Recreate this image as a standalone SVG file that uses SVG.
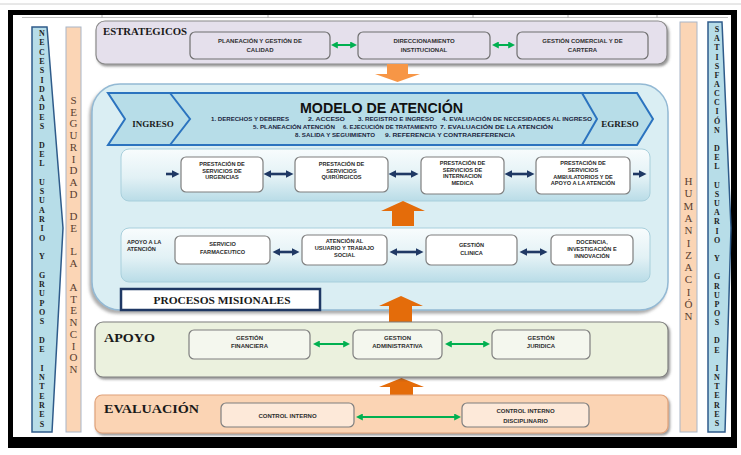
<svg xmlns="http://www.w3.org/2000/svg" width="741" height="455" viewBox="0 0 741 455">
<defs>
<style>
.bt{font-family:"Liberation Sans",Arial,sans-serif;font-weight:bold;font-size:6px;fill:#2e2e2e;text-anchor:middle}
.bs{font-family:"Liberation Sans",Arial,sans-serif;font-weight:bold;font-size:5.6px;fill:#2a2a2a;text-anchor:middle}
.ser{font-family:"Liberation Serif","Times New Roman",serif;font-weight:bold;fill:#1a1a1a}
.vb{font-family:"Liberation Serif","Times New Roman",serif;font-weight:bold;font-size:8px;fill:#1f1f1f;text-anchor:middle}
.vo{font-family:"Liberation Serif","Times New Roman",serif;font-size:11px;fill:#5a4030;text-anchor:middle}
.ga{stroke:#00b050;stroke-width:2;fill:none;marker-start:url(#gh);marker-end:url(#gh)}
.na{stroke:#1f3864;stroke-width:2.6;fill:none;marker-end:url(#nh)}
.nd{stroke:#1f3864;stroke-width:2.6;fill:none;marker-start:url(#nh);marker-end:url(#nh)}
.sub{font-family:"Liberation Sans",Arial,sans-serif;font-weight:bold;font-size:5.3px;fill:#1b2540}
.wb{fill:#fff;stroke:#7f7f7f;stroke-width:1.2}
.pan{fill:url(#pg);stroke:#a8cfdc;stroke-width:1}
</style>
<marker id="gh" viewBox="0 0 10 10" refX="4" refY="5" markerWidth="3.5" markerHeight="3.5" orient="auto-start-reverse"><path d="M0,0 L10,5 L0,10 z" fill="#00b050"/></marker>
<marker id="nh" viewBox="0 0 10 10" refX="4" refY="5" markerWidth="2.9" markerHeight="2.9" orient="auto-start-reverse"><path d="M0,0 L10,5 L0,10 z" fill="#1f3864"/></marker>
<filter id="sh" x="-5%" y="-10%" width="112%" height="130%"><feDropShadow dx="1.5" dy="2" stdDeviation="1" flood-color="#444" flood-opacity="0.55"/></filter>
<filter id="sh2" x="-5%" y="-5%" width="110%" height="115%"><feDropShadow dx="-2" dy="3" stdDeviation="1.5" flood-color="#777" flood-opacity="0.6"/></filter>
<linearGradient id="pg" x1="0" y1="0" x2="0" y2="1"><stop offset="0" stop-color="#f8fcfd"/><stop offset="0.55" stop-color="#e2f1f5"/><stop offset="1" stop-color="#b9dce7"/></linearGradient>
</defs>

<rect x="0" y="0" width="741" height="455" fill="#fff"/>
<line x1="0" y1="4" x2="741" y2="4" stroke="#d0d0d0" stroke-width="1"/>
<g id="frame">
<rect x="8" y="10" width="729" height="5" fill="#000"/>
<rect x="8" y="10" width="5" height="438" fill="#000"/>
<rect x="731" y="10" width="6" height="438" fill="#000"/>
<rect x="8" y="437" width="729" height="11" fill="#000"/>
<line x1="22" y1="17.5" x2="728" y2="17.5" stroke="#c0c0c0" stroke-width="1"/>
<path d="M102,15V18 M268,15V18 M473,15V18 M568,15V18 M657,15V18" stroke="#b0b0b0" stroke-width="1"/>
</g>

<g id="necesidades">
<path d="M32,27 L47,27 L63,228 L52,432 L32,432 Z" fill="#b7dde8" stroke="#2f5b8a" stroke-width="1.5"/>
<text class="vb"><tspan x="42" y="36">N</tspan><tspan x="42" y="45.3">E</tspan><tspan x="42" y="54.6">C</tspan><tspan x="42" y="63.9">E</tspan><tspan x="42" y="73.2">S</tspan><tspan x="42" y="82.5">I</tspan><tspan x="42" y="91.8">D</tspan><tspan x="42" y="101.1">A</tspan><tspan x="42" y="110.4">D</tspan><tspan x="42" y="119.7">E</tspan><tspan x="42" y="129">S</tspan><tspan x="42" y="147.6">D</tspan><tspan x="42" y="156.9">E</tspan><tspan x="42" y="166.2">L</tspan><tspan x="42" y="184.8">U</tspan><tspan x="42" y="194.1">S</tspan><tspan x="42" y="203.4">U</tspan><tspan x="42" y="212.7">A</tspan><tspan x="42" y="222">R</tspan><tspan x="42" y="231.3">I</tspan><tspan x="42" y="240.6">O</tspan><tspan x="42" y="259.2">Y</tspan><tspan x="42" y="277.8">G</tspan><tspan x="42" y="287.1">R</tspan><tspan x="42" y="296.4">U</tspan><tspan x="42" y="305.7">P</tspan><tspan x="42" y="315">O</tspan><tspan x="42" y="324.3">S</tspan><tspan x="42" y="342.9">D</tspan><tspan x="42" y="352.2">E</tspan><tspan x="42" y="370.8">I</tspan><tspan x="42" y="380.1">N</tspan><tspan x="42" y="389.4">T</tspan><tspan x="42" y="398.7">E</tspan><tspan x="42" y="408">R</tspan><tspan x="42" y="417.3">E</tspan><tspan x="42" y="426.6">S</tspan></text>
</g>

<g id="seguridad">
<rect x="66" y="27" width="15" height="405" fill="#fbd5b5" stroke="#a9b6c8" stroke-width="1"/>
<text class="vo"><tspan x="73.5" y="104">S</tspan><tspan x="73.5" y="115.7">E</tspan><tspan x="73.5" y="127.4">G</tspan><tspan x="73.5" y="139.1">U</tspan><tspan x="73.5" y="150.8">R</tspan><tspan x="73.5" y="162.5">I</tspan><tspan x="73.5" y="174.2">D</tspan><tspan x="73.5" y="185.9">A</tspan><tspan x="73.5" y="197.6">D</tspan><tspan x="73.5" y="220">D</tspan><tspan x="73.5" y="231.7">E</tspan><tspan x="73.5" y="255">L</tspan><tspan x="73.5" y="266.7">A</tspan><tspan x="73.5" y="291">A</tspan><tspan x="73.5" y="302.7">T</tspan><tspan x="73.5" y="314.4">E</tspan><tspan x="73.5" y="326.1">N</tspan><tspan x="73.5" y="337.8">C</tspan><tspan x="73.5" y="349.5">I</tspan><tspan x="73.5" y="361.2">O</tspan><tspan x="73.5" y="372.9">N</tspan></text>
</g>

<g id="humanizacion">
<rect x="680" y="22" width="17" height="410" fill="#fbd5b5" stroke="#a9b6c8" stroke-width="1"/>
<text class="vo"><tspan x="688.5" y="185">H</tspan><tspan x="688.5" y="197.3">U</tspan><tspan x="688.5" y="209.6">M</tspan><tspan x="688.5" y="221.9">A</tspan><tspan x="688.5" y="234.2">N</tspan><tspan x="688.5" y="246.5">I</tspan><tspan x="688.5" y="258.8">Z</tspan><tspan x="688.5" y="271.1">A</tspan><tspan x="688.5" y="283.4">C</tspan><tspan x="688.5" y="295.7">I</tspan><tspan x="688.5" y="308">Ó</tspan><tspan x="688.5" y="320.3">N</tspan></text>
</g>

<g id="satisfaccion">
<path d="M708,22 L722,22 L731,228 L725,432 L708,432 Z" fill="#b7dde8" stroke="#2f5b8a" stroke-width="1.5"/>
<text class="vb"><tspan x="717" y="32">S</tspan><tspan x="717" y="41.2">A</tspan><tspan x="717" y="50.3">T</tspan><tspan x="717" y="59.5">I</tspan><tspan x="717" y="68.6">S</tspan><tspan x="717" y="77.8">F</tspan><tspan x="717" y="87">A</tspan><tspan x="717" y="96.1">C</tspan><tspan x="717" y="105.3">C</tspan><tspan x="717" y="114.4">I</tspan><tspan x="717" y="123.6">Ó</tspan><tspan x="717" y="132.8">N</tspan><tspan x="717" y="151.1">D</tspan><tspan x="717" y="160.2">E</tspan><tspan x="717" y="169.4">L</tspan><tspan x="717" y="187.7">U</tspan><tspan x="717" y="196.9">S</tspan><tspan x="717" y="206">U</tspan><tspan x="717" y="215.2">A</tspan><tspan x="717" y="224.4">R</tspan><tspan x="717" y="233.5">I</tspan><tspan x="717" y="242.7">O</tspan><tspan x="717" y="261">Y</tspan><tspan x="717" y="279.3">G</tspan><tspan x="717" y="288.5">R</tspan><tspan x="717" y="297.6">U</tspan><tspan x="717" y="306.8">P</tspan><tspan x="717" y="316">O</tspan><tspan x="717" y="325.1">S</tspan><tspan x="717" y="343.4">D</tspan><tspan x="717" y="352.6">E</tspan><tspan x="717" y="370.9">I</tspan><tspan x="717" y="380">N</tspan><tspan x="717" y="389.2">T</tspan><tspan x="717" y="398.4">E</tspan><tspan x="717" y="407.5">R</tspan><tspan x="717" y="416.7">E</tspan><tspan x="717" y="425.9">S</tspan></text>
</g>

<g id="estrategicos">
<rect x="96" y="21" width="571" height="43" rx="9" fill="#e5e0ec" stroke="#8a8a8a" stroke-width="1.2" filter="url(#sh)"/>
<text class="ser" x="103" y="35" font-size="11" textLength="84" lengthAdjust="spacingAndGlyphs">ESTRATEGICOS</text>
</g>
<g id="planeacion">
<rect x="190" y="32" width="140" height="27" rx="5" fill="#e5e0ec" stroke="#6f6f6f" stroke-width="1.2"/>
<text class="bt" font-size="7.3" x="260" y="43">PLANEACIÓN Y GESTIÓN DE</text>
<text class="bt" font-size="7.3" x="260" y="52">CALIDAD</text>
</g>
<g id="direccionamiento">
<rect x="358" y="32" width="132" height="27" rx="5" fill="#e5e0ec" stroke="#6f6f6f" stroke-width="1.2"/>
<text class="bt" font-size="7.3" x="424" y="43">DIRECCIONAMIENTO</text>
<text class="bt" font-size="7.3" x="424" y="52">INSTITUCIONAL</text>
</g>
<g id="comercial">
<rect x="517" y="32" width="131" height="27" rx="5" fill="#e5e0ec" stroke="#6f6f6f" stroke-width="1.2"/>
<text class="bt" font-size="7.3" x="582.5" y="43">GESTIÓN COMERCIAL Y DE</text>
<text class="bt" font-size="7.3" x="582.5" y="52">CARTERA</text>
</g>

<g id="modelo">
<rect x="92" y="84" width="576" height="226" rx="28" fill="#daeef3" stroke="#93b9d4" stroke-width="1.5" filter="url(#sh2)"/>
<path d="M108,93 L637,93 L653,119 L637,145 L108,145 L125,119 Z" fill="#b7dde8" stroke="#2b73bf" stroke-width="2"/>
<path d="M170,93 L190,119 L170,145 M582,93 L597,119 L582,145" fill="none" stroke="#2b73bf" stroke-width="2"/>
<text class="ser" x="153" y="127" font-size="9" text-anchor="middle">INGRESO</text>
<text class="ser" x="620" y="127" font-size="9" text-anchor="middle">EGRESO</text>
<text x="381.5" y="113" font-family="Liberation Sans, Arial, sans-serif" font-weight="bold" font-size="15" fill="#111" text-anchor="middle" textLength="163" lengthAdjust="spacingAndGlyphs">MODELO DE ATENCIÓN</text>
<text class="sub" x="211" y="121" textLength="78" lengthAdjust="spacingAndGlyphs">1.   DERECHOS Y DEBERES</text>
<text class="sub" x="308" y="121" textLength="37" lengthAdjust="spacingAndGlyphs">2.   ACCESO</text>
<text class="sub" x="358" y="121" textLength="76" lengthAdjust="spacingAndGlyphs">3. REGISTRO E INGRESO</text>
<text class="sub" x="442" y="121" textLength="150" lengthAdjust="spacingAndGlyphs">4. EVALUACIÓN DE NECESIDADES AL INGRESO</text>
<text class="sub" x="253" y="129" textLength="82" lengthAdjust="spacingAndGlyphs">5. PLANEACIÓN ATENCIÓN</text>
<text class="sub" x="343" y="129" textLength="94" lengthAdjust="spacingAndGlyphs">6. EJECUCIÓN DE TRATAMIENTO</text>
<text class="sub" x="440" y="129" textLength="113" lengthAdjust="spacingAndGlyphs">7. EVALUACIÓN DE LA ATENCIÓN</text>
<text class="sub" x="295" y="137" textLength="80" lengthAdjust="spacingAndGlyphs">8. SALIDA Y SEGUIMIENTO</text>
<text class="sub" x="385" y="137" textLength="130" lengthAdjust="spacingAndGlyphs">9. REFERENCIA Y CONTRAREFERENCIA</text>
<rect class="pan" x="121" y="149" width="529" height="52" rx="8"/>
<rect class="pan" x="121" y="228" width="529" height="54" rx="8"/>
<text class="bs" x="127" y="244" style="text-anchor:start">APOYO A  LA</text>
<text class="bs" x="127" y="251" style="text-anchor:start">ATENCIÓN</text>
</g>

<g id="urgencias">
<rect class="wb" x="181" y="157" width="82" height="35" rx="5"/>
<text class="bs" x="222" y="166">PRESTACIÓN DE</text>
<text class="bs" x="222" y="172.5">SERVICIOS DE</text>
<text class="bs" x="222" y="179">URGENCIAS</text>
</g>
<g id="quirurgicos">
<rect class="wb" x="295" y="157" width="93" height="35" rx="5"/>
<text class="bs" x="341.5" y="166">PRESTACIÓN DE</text>
<text class="bs" x="341.5" y="172.5">SERVICIOS</text>
<text class="bs" x="341.5" y="179">QUIRÚRGICOS</text>
</g>
<g id="internacion">
<rect class="wb" x="421" y="157" width="83" height="37" rx="5"/>
<text class="bs" x="462.5" y="165">PRESTACIÓN DE</text>
<text class="bs" x="462.5" y="171.5">SERVICIOS DE</text>
<text class="bs" x="462.5" y="178">INTERNACION</text>
<text class="bs" x="462.5" y="184.5">MEDICA</text>
</g>
<g id="ambulatorios">
<rect class="wb" x="536" y="157" width="94" height="37" rx="5"/>
<text class="bs" x="583" y="165">PRESTACIÓN DE</text>
<text class="bs" x="583" y="171.5">SERVICIOS</text>
<text class="bs" x="583" y="178.5">AMBULATORIOS Y DE</text>
<text class="bs" x="583" y="185">APOYO A LA ATENCIÓN</text>
</g>
<g id="farmaceutico">
<rect class="wb" x="175" y="236" width="95" height="28" rx="5"/>
<text class="bs" x="222.5" y="246">SERVICIO</text>
<text class="bs" x="222.5" y="253.5">FARMACEUTICO</text>
</g>
<g id="usuario">
<rect class="wb" x="302" y="235" width="85" height="30" rx="5"/>
<text class="bs" x="344.5" y="243">ATENCIÓN AL</text>
<text class="bs" x="344.5" y="250">USUARIO Y TRABAJO</text>
<text class="bs" x="344.5" y="257">SOCIAL</text>
</g>
<g id="clinica">
<rect class="wb" x="426" y="235" width="91" height="30" rx="5"/>
<text class="bs" x="471.5" y="247">GESTIÓN</text>
<text class="bs" x="471.5" y="254.5">CLINICA</text>
</g>
<g id="docencia">
<rect class="wb" x="551" y="235" width="82" height="30" rx="5"/>
<text class="bs" x="592" y="243.5">DOCENCIA,</text>
<text class="bs" x="592" y="250.5">INVESTIGACIÓN E</text>
<text class="bs" x="592" y="257.5">INNOVACIÓN</text>
</g>

<g id="procesos">
<rect x="121" y="289" width="199" height="21" fill="#fff" stroke="#1f3864" stroke-width="2.5"/>
<text class="ser" x="222" y="303.5" font-size="11" text-anchor="middle" textLength="137" lengthAdjust="spacingAndGlyphs">PROCESOS MISIONALES</text>
</g>

<g id="flechas-naranja">
<path d="M387,64 H408 V74 H420 L397.5,82 L375,74 H387 Z" fill="#f79646"/>
<path d="M392,226 V211 H381 L403,201 L425,211 H414 V226 Z" fill="#e46c0a"/>
<path d="M389,323 V306 H379 L401,296 L423,306 H412 V323 Z" fill="#e46c0a"/>
<path d="M390,396 V387 H379 L401.5,378 L424,387 H413 V396 Z" fill="#e46c0a"/>
</g>

<g id="apoyo">
<rect x="95" y="322" width="573" height="55" rx="8" fill="#ebf1de" stroke="#7f7f7f" stroke-width="1.2" filter="url(#sh)"/>
<text class="ser" x="104" y="342" font-size="13.5" textLength="51" lengthAdjust="spacingAndGlyphs">APOYO</text>
</g>
<g id="financiera">
<rect x="189" y="330" width="121" height="29" rx="5" fill="#f4f7ee" stroke="#7f7f7f" stroke-width="1.2"/>
<text class="bt" x="249.5" y="340">GESTIÓN</text>
<text class="bt" x="249.5" y="348">FINANCIERA</text>
</g>
<g id="administrativa">
<rect x="353" y="330" width="89" height="29" rx="5" fill="#f4f7ee" stroke="#7f7f7f" stroke-width="1.2"/>
<text class="bt" x="397.5" y="340">GESTION</text>
<text class="bt" x="397.5" y="348">ADMINISTRATIVA</text>
</g>
<g id="juridica">
<rect x="492" y="330" width="98" height="29" rx="5" fill="#f4f7ee" stroke="#7f7f7f" stroke-width="1.2"/>
<text class="bt" x="541" y="340">GESTIÓN</text>
<text class="bt" x="541" y="348">JURIDICA</text>
</g>

<g id="evaluacion">
<rect x="95" y="395" width="573" height="38" rx="7" fill="#fbd4b4" stroke="#e0a27a" stroke-width="1.2" filter="url(#sh)"/>
<text class="ser" x="104" y="413" font-size="13" textLength="95" lengthAdjust="spacingAndGlyphs">EVALUACIÓN</text>
</g>
<g id="control-interno">
<rect x="221" y="403" width="133" height="24" rx="5" fill="#fde9d9" stroke="#7f7f7f" stroke-width="1.2"/>
<text class="bt" font-size="7" x="287.5" y="418">CONTROL INTERNO</text>
</g>
<g id="control-disciplinario">
<rect x="462" y="403" width="127" height="24" rx="5" fill="#fde9d9" stroke="#7f7f7f" stroke-width="1.2"/>
<text class="bt" font-size="7" x="525.5" y="413">CONTROL INTERNO</text>
<text class="bt" font-size="7" x="525.5" y="422.5">DISCIPLINARIO</text>
</g>

<g id="conectores">
<line class="ga" x1="335" y1="45" x2="353" y2="45"/>
<line class="ga" x1="496" y1="45" x2="511" y2="45"/>
<line class="na" x1="166" y1="174" x2="175" y2="174"/>
<line class="nd" x1="268" y1="174" x2="289" y2="174"/>
<line class="nd" x1="393" y1="174" x2="414" y2="174"/>
<line class="nd" x1="509" y1="174" x2="530" y2="174"/>
<line class="na" x1="633" y1="174" x2="642" y2="174"/>
<line class="nd" x1="277" y1="252" x2="295" y2="252"/>
<line class="nd" x1="394" y1="252" x2="419" y2="252"/>
<line class="nd" x1="524" y1="252" x2="543" y2="252"/>
<line class="ga" x1="317" y1="344" x2="346" y2="344"/>
<line class="ga" x1="449" y1="344" x2="486" y2="344"/>
<line class="ga" x1="360" y1="417" x2="457" y2="417"/>
</g>
</svg>
